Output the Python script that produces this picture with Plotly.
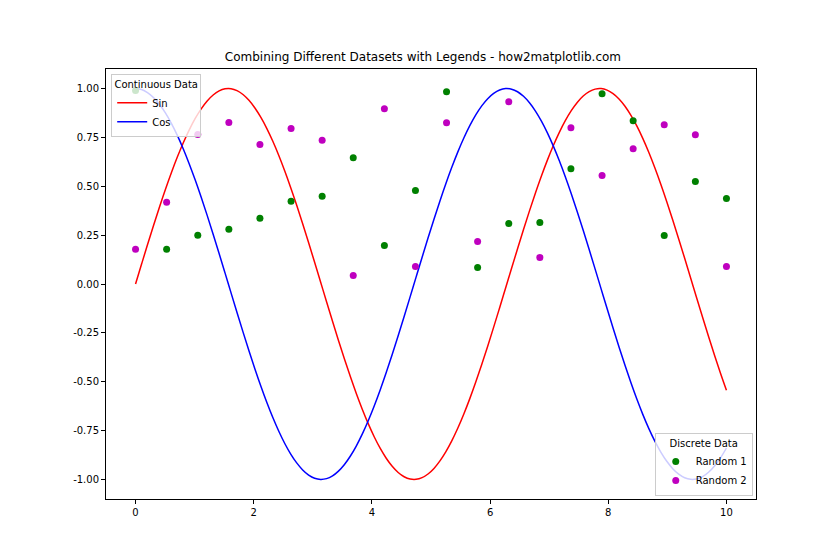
import numpy as np
import plotly.graph_objects as go

# Continuous data (the curves are labelled Sin and Cos)
x_line = np.linspace(0, 10, 100)
sin_values = np.sin(x_line)
cos_values = np.cos(x_line)

# Discrete data
x_points = [0.0, 0.526, 1.053, 1.579, 2.105, 2.632, 3.158, 3.684, 4.211, 4.737,
            5.263, 5.789, 6.316, 6.842, 7.368, 7.895, 8.421, 8.947, 9.474, 10.0]
random1 = [0.99, 0.178, 0.25, 0.28, 0.337, 0.423, 0.449, 0.646, 0.197, 0.478,
           0.983, 0.085, 0.310, 0.315, 0.590, 0.973, 0.835, 0.248, 0.524, 0.437]
random2 = [0.178, 0.418, 0.765, 0.826, 0.714, 0.796, 0.735, 0.044, 0.896, 0.090,
           0.825, 0.218, 0.932, 0.136, 0.799, 0.555, 0.692, 0.815, 0.764, 0.090]

x_ticks = [0, 2, 4, 6, 8, 10]
y_ticks = [-1.0, -0.75, -0.5, -0.25, 0.0, 0.25, 0.5, 0.75, 1.0]
y_tick_labels = ["-1.00", "-0.75", "-0.50", "-0.25", "0.00", "0.25", "0.50", "0.75", "1.00"]

FONT = "DejaVu Sans"

fig = go.Figure()
fig.add_trace(go.Scatter(x=x_line, y=sin_values, mode="lines", name="Sin",
                         line=dict(color="#ff0000", width=1.5, shape="spline"), legend="legend"))
fig.add_trace(go.Scatter(x=x_line, y=cos_values, mode="lines", name="Cos",
                         line=dict(color="#0000ff", width=1.5, shape="spline"), legend="legend"))
fig.add_trace(go.Scatter(x=x_points, y=random1, mode="markers", name="Random 1",
                         marker=dict(color="#008000", size=7), legend="legend2"))
fig.add_trace(go.Scatter(x=x_points, y=random2, mode="markers", name="Random 2",
                         marker=dict(color="#bf00bf", size=7), legend="legend2"))

axis_common = dict(showgrid=False, zeroline=False, showline=True, mirror=True,
                   linecolor="black", linewidth=1, ticks="outside", ticklen=4,
                   tickcolor="black", tickfont=dict(family=FONT, size=10, color="black"))

fig.update_layout(
    width=840, height=560,
    paper_bgcolor="white", plot_bgcolor="white",
    margin=dict(l=98, r=92, t=61, b=69),
    title=dict(text="Combining Different Datasets with Legends - how2matplotlib.com",
               x=0.494, xanchor="center", y=1 - 49 / 560, yanchor="middle",
               font=dict(family=FONT, size=12, color="black")),
    xaxis=dict(range=[-0.5, 10.5], tickvals=x_ticks, **axis_common),
    yaxis=dict(range=[-1.1, 1.1], tickvals=y_ticks, ticktext=y_tick_labels, **axis_common),
    legend=dict(x=0.008, y=0.988, xanchor="left", yanchor="top",
                bgcolor="rgba(255,255,255,0.8)", bordercolor="#cccccc", borderwidth=1,
                title=dict(text="Continuous Data", side="top center",
                           font=dict(family=FONT, size=10, color="black")),
                font=dict(family=FONT, size=10, color="black"),
                tracegroupgap=0, itemwidth=30),
    legend2=dict(x=0.995, y=0.007, xanchor="right", yanchor="bottom",
                 bgcolor="rgba(255,255,255,0.8)", bordercolor="#cccccc", borderwidth=1,
                 title=dict(text="Discrete Data", side="top center",
                            font=dict(family=FONT, size=10, color="black")),
                 font=dict(family=FONT, size=10, color="black"),
                 tracegroupgap=0, itemwidth=30),
    showlegend=True,
)

fig.write_html("out.html")
